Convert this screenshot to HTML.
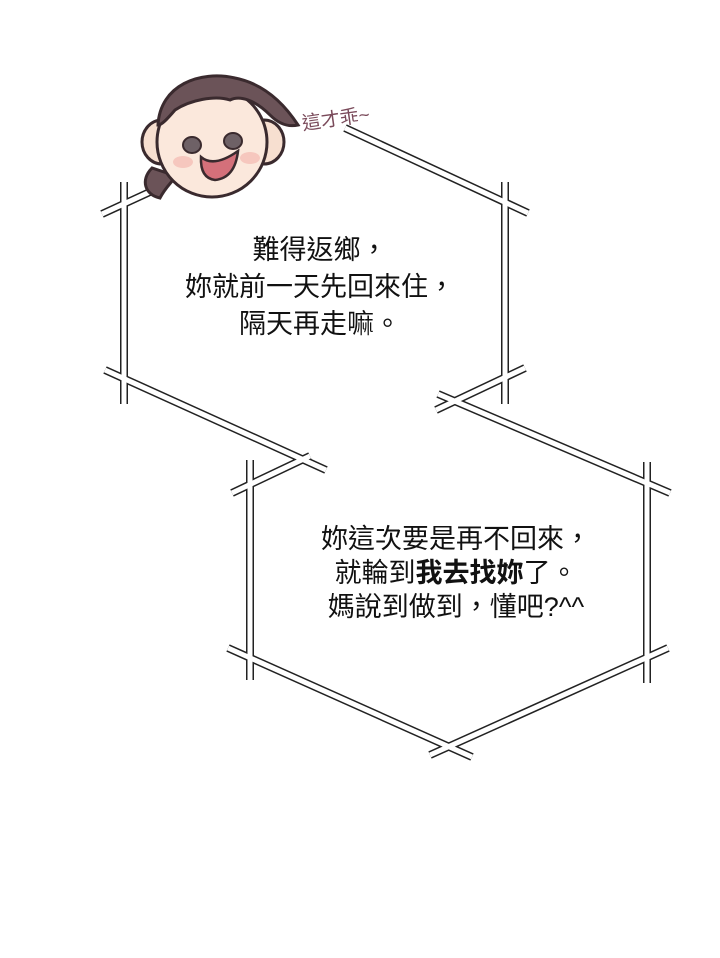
<!DOCTYPE html>
<html><head><meta charset="utf-8"><style>
html,body{margin:0;padding:0;background:#fff;}
body{width:720px;height:958px;position:relative;overflow:hidden;font-family:"Liberation Sans","Noto Sans CJK TC",sans-serif;}
.t{position:absolute;text-align:center;font-size:27px;color:#111;white-space:nowrap;}
</style></head><body>
<svg width="720" height="958" style="position:absolute;left:0;top:0">
<g stroke-linecap="butt" fill="none">
<g stroke="#222" stroke-width="8">
<line x1="102" y1="214" x2="152" y2="191"/>
<line x1="124" y1="182" x2="124" y2="404"/>
<line x1="105" y1="370" x2="326" y2="470"/>
<line x1="345" y1="128" x2="528" y2="213"/>
<line x1="505" y1="182" x2="505" y2="404"/>
<line x1="436" y1="410" x2="525" y2="368"/>
<line x1="232" y1="493" x2="310" y2="456"/>
<line x1="250" y1="460" x2="250" y2="680"/>
<line x1="438" y1="394" x2="670" y2="493"/>
<line x1="647" y1="462" x2="647" y2="683"/>
<line x1="228" y1="648" x2="472" y2="757"/>
<line x1="430" y1="755" x2="668" y2="648"/>
</g>
<g stroke="#fff" stroke-width="5">
<line x1="102" y1="214" x2="152" y2="191"/>
<line x1="124" y1="182" x2="124" y2="404"/>
<line x1="105" y1="370" x2="326" y2="470"/>
<line x1="345" y1="128" x2="528" y2="213"/>
<line x1="505" y1="182" x2="505" y2="404"/>
<line x1="436" y1="410" x2="525" y2="368"/>
<line x1="232" y1="493" x2="310" y2="456"/>
<line x1="250" y1="460" x2="250" y2="680"/>
<line x1="438" y1="394" x2="670" y2="493"/>
<line x1="647" y1="462" x2="647" y2="683"/>
<line x1="228" y1="648" x2="472" y2="757"/>
<line x1="430" y1="755" x2="668" y2="648"/>
</g>
</g>
<!-- face -->
<g stroke="#3a2a2e" stroke-width="3">
<ellipse cx="162" cy="142" rx="20" ry="22" fill="#f7dfd0"/>
<ellipse cx="264" cy="142" rx="20" ry="22" fill="#f7dfd0"/>
<path d="M152 168 C140 180 145 195 160 198 C165 188 172 182 176 176 Z" fill="#6b5358"/>
<circle cx="212" cy="142" r="55" fill="#fbe8dc"/>
<path d="M158 125 C160 85 200 70 235 78 C265 84 285 105 298 125 C285 128 275 120 270 115 C255 100 240 95 230 100 C215 95 190 100 175 110 C168 118 162 125 158 125 Z" fill="#6b5358"/>
<ellipse cx="192" cy="145" rx="9" ry="8" fill="#6e6166" stroke-width="2"/>
<ellipse cx="233" cy="141" rx="9" ry="8" fill="#6e6166" stroke-width="2"/>
<path d="M201 157 Q214 168 238 151 Q235 178 215 180 Q200 178 201 157 Z" fill="#d4707a" stroke-width="2.5"/>
</g>
<ellipse cx="183" cy="162" rx="10" ry="6" fill="#f4b9b0" opacity=".7"/>
<ellipse cx="250" cy="158" rx="10" ry="6" fill="#f4b9b0" opacity=".7"/>
<text x="303" y="130" font-size="19" fill="#7a4a5a" font-family="Liberation Sans,Noto Sans CJK TC,sans-serif" transform="rotate(-8 303 130)">這才乖~</text>
</svg>
<div class="t" style="left:120px;top:232px;width:400px;line-height:37px;">難得返鄉，<br>妳就前一天先回來住，<br>隔天再走嘛。</div>
<div class="t" style="left:256px;top:522px;width:400px;line-height:34px;">妳這次要是再不回來，<br>就輪到<b>我去找妳</b>了。<br>媽說到做到，懂吧?^^</div>
</body></html>
